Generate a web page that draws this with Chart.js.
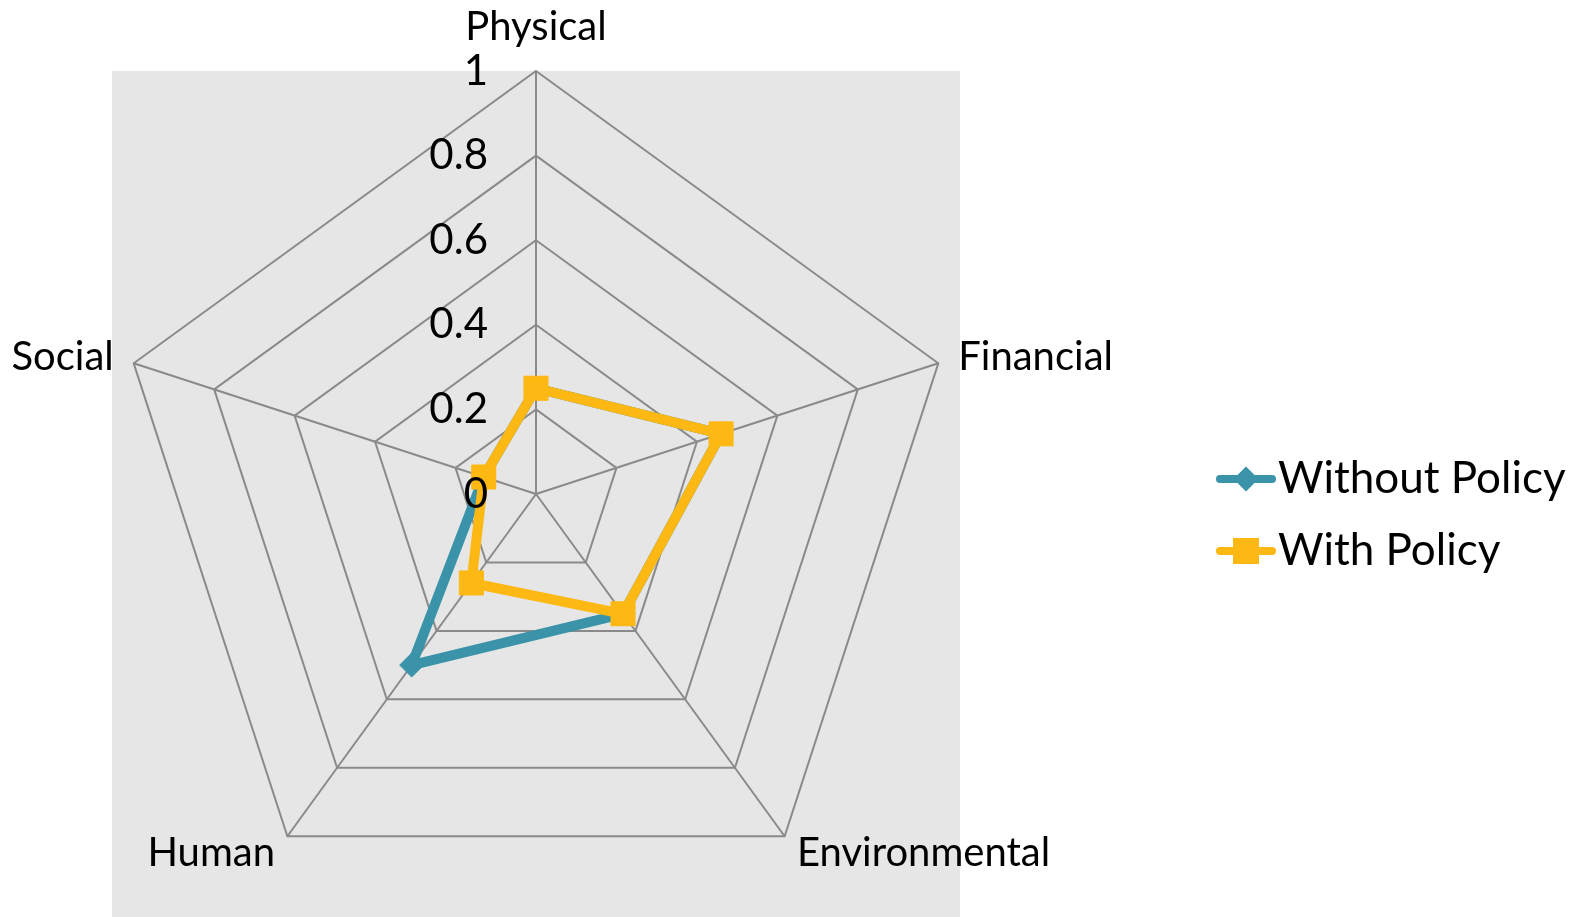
<!DOCTYPE html>
<html>
<head>
<meta charset="utf-8">
<script src="https://cdn.jsdelivr.net/npm/chart.js@4.4.0/dist/chart.umd.min.js"></script>
<style>
  body { margin: 0; background: #fff; }
</style>
</head>
<body>
<canvas id="radar" width="1589" height="917"></canvas>
<script>
// data
const axes = ['Physical', 'Financial', 'Environmental', 'Human', 'Social'];
const withoutPolicy = [0.25, 0.46, 0.35, 0.50, 0.13];
const withPolicy = [0.25, 0.46, 0.35, 0.26, 0.13];
const tickLabels = ['0', '0.2', '0.4', '0.6', '0.8', '1'];
const seriesNames = ['Without Policy', 'With Policy'];

const teal = '#3A93A8';
const gold = '#FDB813';
const fam = 'Lato';

// legend marker: line with the point on it
function legendMark(color, shape) {
    const c = document.createElement('canvas');
    c.width = 64; c.height = 30;
    const g = c.getContext('2d');
    g.strokeStyle = color; g.lineWidth = 8; g.lineCap = 'round';
    g.beginPath(); g.moveTo(6, 15); g.lineTo(58, 15); g.stroke();
    g.fillStyle = color;
    if (shape == 'diamond') {
        g.beginPath();
        g.moveTo(19.5, 15); g.lineTo(32, 2.5); g.lineTo(44.5, 15); g.lineTo(32, 27.5);
        g.closePath(); g.fill();
    } else {
        g.fillRect(19, 2, 26, 26);
    }
    return c;
}
const marks = [legendMark(teal, 'diamond'), legendMark(gold, 'square')];

const plotBg = {
    id: 'plotBg',
    beforeDraw(chart) {
        const a = chart.chartArea, ctx = chart.ctx;
        ctx.save();
        ctx.fillStyle = '#E6E6E6';
        ctx.fillRect(a.left, a.top, a.right - a.left, a.bottom - a.top);
        ctx.restore();
    }
};

// tick values and axis names, placed with the radial scale
const radarText = {
    id: 'radarText',
    afterDatasetsDraw(chart) {
        const r = chart.scales.r, ctx = chart.ctx;
        ctx.save();
        ctx.fillStyle = '#000';
        ctx.font = '42px ' + fam;
        ctx.textBaseline = 'middle';
        ctx.textAlign = 'right';
        r.ticks.forEach((t, i) => {
            const y = r.yCenter - r.getDistanceFromCenterForValue(t.value);
            ctx.fillText(tickLabels[i], r.xCenter - 48, y);
        });
        ctx.font = '40px ' + fam;
        chart.data.labels.forEach((lab, i) => {
            const p = r.getPointPosition(i, r.drawingArea + (i == 0 ? 44 : 21));
            if (Math.abs(p.x - r.xCenter) < 2) ctx.textAlign = 'center';
            else ctx.textAlign = p.x > r.xCenter ? 'left' : 'right';
            ctx.fillText(lab, p.x, p.y);
        });
        ctx.restore();
    }
};

// move the legend out to the right of the plot
const legendPlace = {
    id: 'legendPlace',
    afterLayout(chart) {
        const lg = chart.legend;
        lg.left = 1208; lg.right = 1589;
        lg.top = 429; lg.bottom = 917;
        lg.width = lg.right - lg.left;
        lg.height = lg.bottom - lg.top;
    }
};

const ctx = document.getElementById('radar').getContext('2d');
const chart = new Chart(ctx, {
    type: 'radar',
    data: {
        labels: axes,
        datasets: [{
            label: seriesNames[0],
            data: withoutPolicy,
            borderColor: teal,
            backgroundColor: teal,
            borderWidth: 10,
            borderJoinStyle: 'round',
            pointStyle: 'rectRot',
            pointRadius: 12,
            pointBorderWidth: 1,
            pointBackgroundColor: teal,
            pointBorderColor: teal,
            fill: false,
            order: 2
        }, {
            label: seriesNames[1],
            data: withPolicy,
            borderColor: gold,
            backgroundColor: gold,
            borderWidth: 10,
            borderJoinStyle: 'round',
            pointStyle: 'rect',
            pointRadius: 17,
            pointBorderWidth: 1,
            pointBackgroundColor: gold,
            pointBorderColor: gold,
            fill: false,
            order: 1
        }]
    },
    options: {
        responsive: false,
        animation: false,
        layout: { padding: { left: 112, top: 71, right: 629, bottom: 0 } },
        scales: {
            r: {
                min: 0,
                max: 1,
                ticks: { stepSize: 0.2, display: false },
                pointLabels: { display: false },
                grid: { color: '#8A8A8A', lineWidth: 2 },
                angleLines: { color: '#8A8A8A', lineWidth: 2 }
            }
        },
        plugins: {
            tooltip: { enabled: false },
            legend: {
                position: 'chartArea',
                align: 'start',
                labels: {
                    usePointStyle: true,
                    pointStyleWidth: 20,
                    padding: 28,
                    color: '#000',
                    font: { family: fam, size: 44 },
                    generateLabels(chart) {
                        const items = Chart.defaults.plugins.legend.labels.generateLabels(chart);
                        items.sort((a, b) => a.datasetIndex - b.datasetIndex);
                        items.forEach(it => { it.pointStyle = marks[it.datasetIndex]; });
                        return items;
                    }
                }
            }
        }
    },
    plugins: [plotBg, radarText, legendPlace]
});
</script>
</body>
</html>
